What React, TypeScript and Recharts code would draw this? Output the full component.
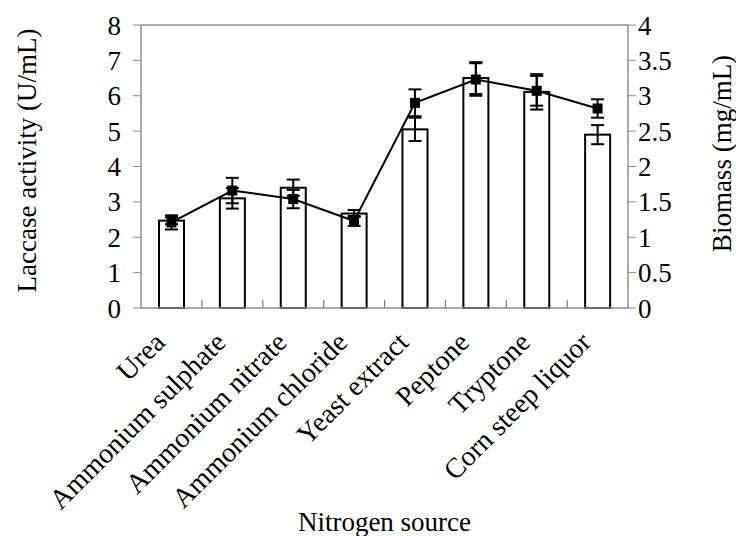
import {
  ComposedChart,
  Bar,
  Line,
  XAxis,
  YAxis,
  ErrorBar,
  ReferenceLine,
  Label,
} from "recharts";

const categories = [
  "Urea",
  "Ammonium sulphate",
  "Ammonium nitrate",
  "Ammonium chloride",
  "Yeast extract",
  "Peptone",
  "Tryptone",
  "Corn steep liquor",
];
const laccase = [2.47, 3.1, 3.4, 2.67, 5.05, 6.5, 6.11, 4.9];
const laccaseErr = [0.1, 0.29, 0.23, 0.1, 0.33, 0.45, 0.5, 0.27];
const biomass = [1.21, 1.66, 1.54, 1.23, 2.9, 3.23, 3.07, 2.82];
const biomassErr = [0.1, 0.18, 0.13, 0.07, 0.19, 0.23, 0.21, 0.13];

const leftTicks = [0, 1, 2, 3, 4, 5, 6, 7, 8];
const rightTicks = [0, 0.5, 1, 1.5, 2, 2.5, 3, 3.5, 4];

const data = categories.map((name, i) => ({
  name,
  laccase: laccase[i],
  laccaseErr: laccaseErr[i],
  biomass: biomass[i],
  biomassErr: biomassErr[i],
}));

const CHART_W = 736;
const CHART_H = 536;
const LEFT_W = 141;
const RIGHT_W = 108;
const HALF_BAND = (CHART_W - LEFT_W - RIGHT_W) / categories.length / 2;
const FONT = "'Liberation Serif', 'Times New Roman', serif";
const AXIS_GRAY = "#8c8c8c";

// rotated category label
function CategoryTick(props: any) {
  const { x, y, payload } = props;
  return (
    <g transform={`translate(${x - 5},${y + 36})`}>
      <text
        x={0}
        y={0}
        transform="rotate(-45)"
        textAnchor="end"
        fontFamily={FONT}
        fontSize={28}
        fill="#000"
      >
        {payload.value}
      </text>
    </g>
  );
}

// white bar with black outline, plus the small gray tick at the left edge of its band
function BarWithTick(props: any) {
  const { x, y, width, height, index } = props;
  if (x == null || y == null) return null;
  const cx = x + width / 2;
  const base = y + height;
  return (
    <g>
      {index > 0 && (
        <path
          d={`M${cx - HALF_BAND},${base}V${base - 8}`}
          stroke="#7a7a7a"
          strokeWidth={1.2}
          fill="none"
        />
      )}
      <rect x={x} y={y} width={width} height={height} fill="#fff" stroke="#000" strokeWidth={2} />
    </g>
  );
}

function SquareDot(props: any) {
  const { cx, cy, index } = props;
  if (cx == null || cy == null) return null;
  return <rect key={`sq-${index}`} x={cx - 5} y={cy - 5} width={10} height={10} fill="#000" />;
}

export default function App() {
  return (
    <div style={{ position: "absolute", left: 0, top: 0, background: "#fff" }}>
      <ComposedChart
        width={CHART_W}
        height={CHART_H}
        data={data}
        margin={{ top: 25, right: 0, bottom: 0, left: 0 }}
      >
        <XAxis
          xAxisId="cat"
          dataKey="name"
          interval={0}
          height={228}
          tickSize={0}
          tickMargin={0}
          tickLine={false}
          axisLine={{ stroke: AXIS_GRAY, strokeWidth: 1.5 }}
          tick={<CategoryTick />}
        >
          <Label
            value="Nitrogen source"
            position="insideBottom"
            offset={5}
            style={{ fontFamily: FONT, fontSize: 27, fill: "#000" }}
          />
        </XAxis>
        <YAxis
          yAxisId="left"
          width={LEFT_W}
          domain={[0, 8]}
          ticks={leftTicks}
          interval={0}
          tickSize={8}
          tickMargin={12}
          axisLine={{ stroke: AXIS_GRAY, strokeWidth: 1.5 }}
          tickLine={{ stroke: AXIS_GRAY }}
          tick={{ fontFamily: FONT, fontSize: 27, fill: "#000" }}
        >
          <Label
            value="Laccase activity (U/mL)"
            angle={-90}
            position="center"
            dx={-44}
            dy={-6}
            style={{ fontFamily: FONT, fontSize: 27, fill: "#000", textAnchor: "middle" }}
          />
        </YAxis>
        <YAxis
          yAxisId="right"
          orientation="right"
          width={RIGHT_W}
          domain={[0, 4]}
          ticks={rightTicks}
          interval={0}
          tickSize={8}
          tickMargin={2}
          axisLine={{ stroke: AXIS_GRAY, strokeWidth: 1.5 }}
          tickLine={{ stroke: AXIS_GRAY }}
          tick={{ fontFamily: FONT, fontSize: 27, fill: "#000" }}
        >
          <Label
            value="Biomass (mg/mL)"
            angle={-90}
            position="center"
            dx={39}
            dy={-13}
            style={{ fontFamily: FONT, fontSize: 27, fill: "#000", textAnchor: "middle" }}
          />
        </YAxis>
        <ReferenceLine
          xAxisId="cat"
          yAxisId="left"
          y={8}
          stroke={AXIS_GRAY}
          strokeWidth={1.5}
        />
        <Bar
          xAxisId="cat"
          yAxisId="left"
          dataKey="laccase"
          barSize={25}
          fill="#fff"
          stroke="#000"
          strokeWidth={2}
          shape={<BarWithTick />}
          isAnimationActive={false}
        >
          <ErrorBar dataKey="laccaseErr" width={6.5} stroke="#000" strokeWidth={2} direction="y" />
        </Bar>
        <Line
          xAxisId="cat"
          yAxisId="right"
          dataKey="biomass"
          stroke="#000"
          strokeWidth={2}
          dot={<SquareDot />}
          activeDot={false}
          isAnimationActive={false}
        >
          <ErrorBar dataKey="biomassErr" width={6.5} stroke="#000" strokeWidth={2} direction="y" />
        </Line>
      </ComposedChart>
    </div>
  );
}
